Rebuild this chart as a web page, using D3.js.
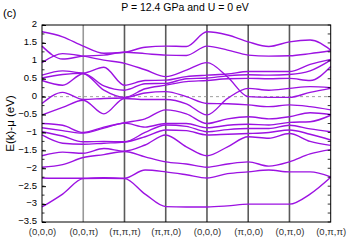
<!DOCTYPE html>
<html>
<head>
<meta charset="utf-8">
<script src="https://cdn.jsdelivr.net/npm/d3@7/dist/d3.min.js"></script>
<style>
  body { margin: 0; background: #fff; }
  svg { display: block; font-family: "Liberation Sans", Arial, sans-serif; }
</style>
</head>
<body>
<svg id="chart"></svg>
<script>
// high symmetry points along the path
const kLabels = ["(0,0,0)", "(0,0,π)", "(π,π,π)", "(π,π,0)", "(0,0,0)", "(π,0,0)", "(0,π,0)", "(0,π,π)"]
// sample positions along the path (points + half way)
const kSamples = [0, 0.5, 1, 1.5, 2, 2.5, 3, 3.5, 4, 4.5, 5, 5.5, 6, 6.5, 7]

// E(k)-mu in eV for each band, read at kSamples
const bands = [
  [1.81, 1.67, 1.41, 1.21, 1.24, 1.38, 1.41, 1.40, 1.81, 1.72, 1.53, 1.40, 1.53, 1.58, 1.30],
  [1.41, 1.05, 1.13, 1.16, 1.24, 1.20, 1.16, 1.15, 1.41, 1.30, 1.16, 1.13, 1.14, 1.20, 1.28],
  [0.95, 1.20, 1.13, 1.02, 0.93, 0.75, 0.56, 0.74, 0.95, 0.55, 0.00, -0.02, -0.02, 0.12, 0.23],
  [0.60, 0.72, 0.66, 0.82, 0.32, 0.45, 0.46, 0.56, 0.60, 0.63, 0.70, 0.70, 0.70, 0.90, 1.04],
  [0.52, 0.62, 0.65, 0.30, 0.18, 0.36, 0.37, 0.50, 0.52, 0.58, 0.61, 0.60, 0.62, 0.72, 1.02],
  [0.45, 0.32, 0.64, 0.18, -0.02, 0.22, 0.32, 0.42, 0.45, 0.50, 0.51, 0.50, 0.51, 0.45, 0.84],
  [-0.19, 0.12, -0.08, -0.05, -0.03, 0.10, 0.14, 0.00, -0.19, -0.20, -0.23, -0.28, -0.23, -0.28, -0.37],
  [-0.51, -0.30, -0.10, -0.48, -0.05, -0.08, -0.08, -0.20, -0.51, -0.05, 0.23, 0.18, 0.23, 0.28, 0.25],
  [-0.75, -0.80, -1.00, -0.85, -0.73, -0.62, -0.37, -0.48, -0.75, -0.62, -0.56, -0.62, -0.56, -0.45, -0.50],
  [-0.87, -0.95, -1.02, -0.88, -0.74, -0.85, -0.75, -0.75, -0.87, -0.80, -0.77, -0.79, -0.72, -0.70, -0.52],
  [-0.98, -1.10, -1.26, -1.25, -1.26, -1.00, -0.79, -0.83, -0.98, -0.92, -0.89, -0.89, -0.80, -0.90, -0.98],
  [-1.07, -1.30, -1.33, -1.30, -1.27, -1.12, -0.93, -0.95, -1.07, -1.05, -1.03, -1.00, -0.93, -1.05, -1.21],
  [-1.65, -1.55, -1.58, -1.45, -1.52, -1.35, -1.07, -1.40, -1.65, -1.40, -1.12, -1.16, -1.03, -1.25, -1.36],
  [-1.97, -1.90, -1.70, -1.62, -1.53, -1.68, -1.82, -1.88, -1.97, -1.88, -1.82, -1.94, -1.82, -1.60, -1.48],
  [-2.27, -2.28, -2.28, -2.26, -2.28, -2.05, -2.10, -2.18, -2.27, -2.15, -2.10, -2.05, -2.10, -2.10, -2.24],
  [-3.08, -2.72, -2.29, -2.28, -2.29, -2.72, -3.07, -3.08, -3.08, -3.05, -3.00, -3.00, -3.00, -2.72, -2.25]
]

const yTicks = [2, 1.5, 1, 0.5, 0, -0.5, -1, -1.5, -2, -2.5, -3, -3.5]

let width = 349
let height = 244
let margin = {top: 25, right: 18.3, bottom: 22, left: 42}

let svg = d3.select('#chart').attr('width', width).attr('height', height)

let x = d3.scaleLinear().domain([0, 7]).range([margin.left, width - margin.right])
let y = d3.scaleLinear().domain([-3.5, 2]).range([height - margin.bottom, margin.top])

// title + panel tag
svg.append('text').attr('x', 3).attr('y', 17).attr('font-size', 11.5).text('(c)')
svg.append('text').attr('x', 185).attr('y', 11).attr('font-size', 10.5)
    .attr('text-anchor', 'middle').text('P = 12.4 GPa and U = 0 eV')

// y label
svg.append('text')
    .attr('transform', 'translate(14,' + ((y(2) + y(-3.5)) / 2) + ') rotate(-90)')
    .attr('text-anchor', 'middle').attr('font-size', 11.5)
    .text('E(k)-μ (eV)')

// vertical lines at the symmetry points
svg.append('g').selectAll('line')
    .data(d3.range(1, 7))
    .enter().append('line')
    .attr('x1', d => x(d)).attr('x2', d => x(d))
    .attr('y1', y(2)).attr('y2', y(-3.5))
    .attr('stroke', d => d === 1 ? '#999' : '#5a5a5a').attr('stroke-width', 1.6)

// fermi level
svg.append('line')
    .attr('x1', x(0)).attr('x2', x(7))
    .attr('y1', y(0)).attr('y2', y(0))
    .attr('stroke', '#888').attr('stroke-width', 0.8)
    .attr('stroke-dasharray', '3,3')

// bands
let line = d3.line()
    .x((d, i) => x(kSamples[i]))
    .y(d => y(d))
    .curve(d3.curveMonotoneX)

svg.append('g').selectAll('path')
    .data(bands)
    .enter().append('path')
    .attr('d', line)
    .attr('fill', 'none')
    .attr('stroke', '#9c12e2')
    .attr('stroke-width', 1.4)

// axes
let yAxis = d3.axisLeft(y).tickValues(yTicks).tickFormat(d3.format('')).tickSize(-4).tickPadding(5)
let gy = svg.append('g').attr('transform', 'translate(' + x(0) + ',0)').call(yAxis)
gy.select('.domain').remove()
gy.selectAll('text').attr('font-size', 9.5).attr('fill', '#000').attr('dy', '0.2em')
    .attr('font-family', 'Liberation Sans, Arial, sans-serif')

let minor = d3.range(-3.5, 2.01, 0.25)
svg.append('g').selectAll('line').data(minor).enter().append('line')
    .attr('x1', x(0)).attr('x2', x(0) + 2.5)
    .attr('y1', d => y(d)).attr('y2', d => y(d))
    .attr('stroke', '#000').attr('stroke-width', 0.8)
svg.append('g').selectAll('line').data(minor).enter().append('line')
    .attr('x1', x(7)).attr('x2', x(7) - 3)
    .attr('y1', d => y(d)).attr('y2', d => y(d))
    .attr('stroke', '#000').attr('stroke-width', 0.8)

let xAxis = d3.axisBottom(x).tickValues(d3.range(0, 8)).tickFormat(i => kLabels[i]).tickSize(0).tickPadding(6)
let gx = svg.append('g').attr('transform', 'translate(0,' + y(-3.5) + ')').call(xAxis)
gx.select('.domain').remove()
gx.selectAll('text').attr('font-size', 9.5).attr('fill', '#333').attr('font-family', 'Liberation Sans, Arial, sans-serif')

// frame
svg.append('rect')
    .attr('x', x(0)).attr('y', y(2))
    .attr('width', x(7) - x(0)).attr('height', y(-3.5) - y(2))
    .attr('fill', 'none').attr('stroke', '#000').attr('stroke-width', 1)
</script>
</body>
</html>
